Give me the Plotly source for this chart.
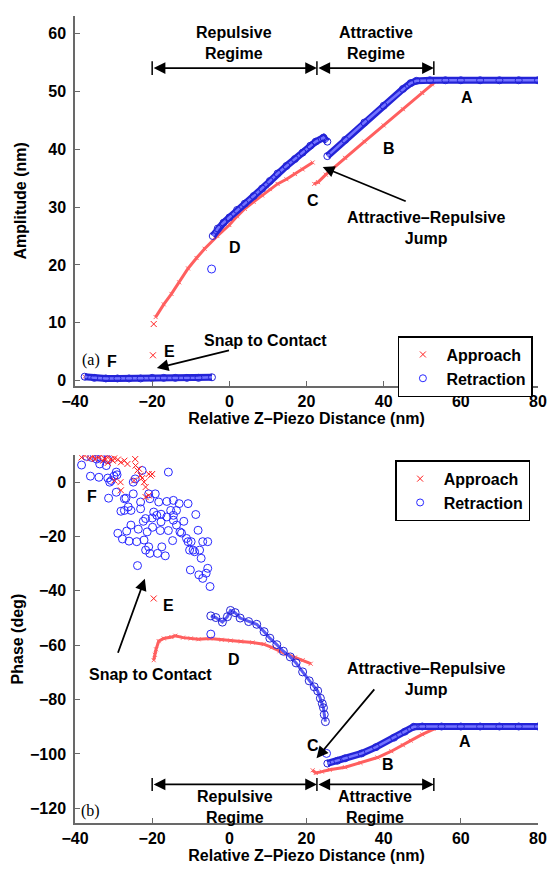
import plotly.graph_objects as go

# ---------------- data ----------------
# Top panel: amplitude (nm) vs relative Z-piezo distance (nm)
amp_app_f_x = [-37.5, -36, -34, -32, -30, -28, -26, -24, -22, -20.5]
amp_app_f_y = [0.7, 0.6, 0.5, 0.5, 0.4, 0.4, 0.4, 0.4, 0.4, 0.4]
amp_app_e_x = [-19.8, -19.6]
amp_app_e_y = [4.4, 9.8]
amp_app_d_x = [-19.1, -17, -15, -13, -10.7, -8.5, -6.4, -3.1, 0, 2, 4, 6.3, 8.5, 10.5, 12.5, 14.8, 17, 19, 21.6]
amp_app_d_y = [11.0, 13.2, 15.0, 17.0, 19.4, 21.2, 22.8, 25.0, 26.9, 28.4, 29.7, 30.9, 32.0, 33.1, 34.0, 34.8, 35.7, 36.5, 37.7]
amp_app_b_x = [22, 23, 25, 30, 35, 40, 45, 50, 52.5, 53.5, 56, 60, 65, 70, 75, 80]
amp_app_b_y = [34.0, 34.3, 35.6, 38.5, 41.3, 44.1, 46.9, 49.7, 51.2, 51.7, 51.8, 51.8, 51.8, 51.8, 51.8, 51.8]

amp_ret_f_x = [-37.5, -35, -32, -29, -26, -23, -20, -17, -14, -11, -8, -4.5]
amp_ret_f_y = [0.7, 0.5, 0.4, 0.4, 0.4, 0.4, 0.5, 0.5, 0.5, 0.5, 0.5, 0.6]
amp_ret_iso_x = [-4.6]
amp_ret_iso_y = [19.3]
amp_ret_d_x = [-4.3, -3, -1.5, 0, 2, 4, 6.3, 8.5, 10.5, 12.5, 14.8, 17, 19, 21, 22.4, 24.4, 25.4]
amp_ret_d_y = [25.0, 26.3, 27.3, 28.2, 29.5, 30.6, 31.9, 33.2, 34.5, 35.8, 37.1, 38.3, 39.4, 40.6, 41.3, 42.0, 41.3]
amp_ret_b_x = [25.4, 30, 35, 40, 45, 47, 48.5, 52, 56, 60, 65, 70, 75, 80]
amp_ret_b_y = [38.8, 41.6, 44.6, 47.5, 50.4, 51.4, 51.8, 51.9, 51.9, 51.9, 51.9, 51.9, 51.9, 51.9]

# Bottom panel: phase (deg) vs relative Z-piezo distance (nm)
ph_app_f_x = [-38.3, -37.4, -36.1, -35.3, -34.9, -34.0, -33.2, -32.7, -32.3, -31.5, -30.6, -30.2,
              -29.8, -28.9, -28.1, -27.2, -26.4, -24.4, -24.3, -23.4, -23.0, -22.6, -22.1, -21.7,
              -20.9, -20.4, -20.0, -21.7, -20.9, -28.1, -28.2, -29.8, -24.7, -31.5, -23.8]
ph_app_f_y = [9.1, 9.8, 8.8, 9.5, 8.5, 9.1, 9.8, 7.9, 8.8, 9.1, 8.5, 7.9,
              8.8, 8.3, 7.3, 7.9, 6.7, 8.5, 6.1, 4.9, 2.4, 1.5, 0.0, -1.8,
              3.0, 2.4, 3.0, -5.5, -4.9, -3.0, 0.0, 0.6, 0.6, 7.1, 4.3]
ph_app_e_x = [-19.6]
ph_app_e_y = [-42.8]
ph_app_d_x = [-19.6, -19.3, -19.0, -18.3, -17, -15, -14, -12, -10, -8, -5, -2, 0.3, 3, 6, 8.9, 11, 13, 14.8, 17, 19, 21.1]
ph_app_d_y = [-65.5, -63.5, -61.5, -58.5, -57.5, -57.0, -56.5, -57.2, -57.5, -57.8, -57.5, -58.0, -58.3,
              -58.6, -59.0, -59.6, -60.8, -62.2, -63.3, -64.5, -65.5, -66.8]
ph_app_b_x = [21.6, 22.4, 24, 26, 30, 34, 38.4, 42, 45, 47, 50, 52.9, 54, 56, 60, 65, 70, 75, 80]
ph_app_b_y = [-106.0, -107.0, -106.5, -105.8, -104.9, -103.3, -101.3, -99.0, -96.8, -95.1, -92.8, -90.7,
              -90.2, -90.0, -90.0, -90.0, -90.0, -90.0, -90.0]

ph_ret_f_x = [-38.3, -37.0, -35.7, -34.4, -33.6, -33.2, -31.9, -31.5, -36.0, -33.8, -31.5, -31.0, -30.6,
              -29.9, -29.3, -29.1, -31.3, -29.3, -27.2, -26.8, -24.9, -24.9, -24.4, -22.6, -28.1, -27.2,
              -26.2, -25.5, -23.0, -23.0, -20.9, -20.6, -19.2, -18.3, -19.6, -18.8, -17.7, -16.2, -14.5,
              -13.0, -10.7, -15.8, -22.3, -21.7, -20.0, -17.7, -16.2, -14.5, -13.7, -15.2, -14.5, -11.8,
              -8.7, -28.9, -27.7, -26.6, -26.0, -25.5, -24.0, -23.6, -22.1, -21.3, -19.9, -17.9, -15.8,
              -13.7, -12.4, -11.1, -10.7, -14.7, -21.7, -20.6, -20.9, -18.6, -17.5, -16.6, -9.9, -9.4,
              -9.0, -7.7, -7.3, -6.9, -5.6, -8.1, -23.8, -10.1, -7.9, -6.9, -5.6, -5.0, -10.3, -12.8, -6.0]
ph_ret_f_y = [6.3, 9.5, 9.1, 8.5, 6.7, 8.8, 6.1, 8.3, 2.2, 1.8, 1.5, 0.0, 0.6,
              2.2, 3.7, 2.7, -5.9, -3.7, -6.1, -5.9, -4.3, 0.0, 1.2, 4.3, -10.7, -10.4,
              -9.1, -10.4, -7.3, -9.8, -4.3, -6.1, -4.3, -7.3, -11.0, -12.2, -11.8, -7.1, -6.7,
              -7.9, -7.9, 3.7, -14.4, -13.4, -13.2, -14.6, -12.8, -12.2, -10.4, -10.4, -14.0, -14.4,
              -11.9, -18.8, -20.9, -18.0, -21.7, -15.8, -21.9, -17.3, -21.3, -18.3, -16.6, -17.8, -17.8,
              -15.8, -18.7, -20.7, -21.9, -21.5, -25.0, -26.2, -23.8, -26.2, -23.8, -27.1, -21.9, -25.0,
              -25.6, -25.0, -28.0, -21.9, -21.9, -17.7, -30.7, -32.3, -34.1, -35.4, -31.7, -38.4, -25.0, -18.3, -33.5]
ph_ret_iso_x = [-4.8, 25.2]
ph_ret_iso_y = [-55.9, -99.8]
ph_ret_d_x = [-4.8, -3.5, -1.8, -0.5, 0.3, 1.5, 2.8, 5, 7.1, 9, 10.5, 12.3, 14, 15.8, 17.3, 19, 20.7, 22,
              22.9, 23.6, 24.1, 24.4, 24.6, 24.9]
ph_ret_d_y = [-49.2, -49.8, -51.5, -49.5, -47.2, -48.0, -50.0, -51.3, -52.3, -55.0, -57.4, -59.8, -62.2,
              -64.3, -66.5, -69.8, -73.1, -75.3, -76.8, -79.5, -81.5, -83.0, -85.5, -88.1]
ph_ret_b_x = [25.4, 28, 30, 34.3, 38, 42.7, 45.5, 47.8, 50, 55, 60, 65, 70, 75, 80]
ph_ret_b_y = [-103.5, -102.5, -101.6, -99.8, -97.5, -94.0, -91.8, -90.0, -89.9, -89.9, -89.9, -89.9, -89.9,
              -89.9, -89.9]

x_ticks = [-40, -20, 0, 20, 40, 60, 80]
amp_ticks = [0, 10, 20, 30, 40, 50, 60]
ph_ticks = [-120, -100, -80, -60, -40, -20, 0]

# ---------------- styling ----------------
RED = "rgb(255,30,30)"
RED_BAND = "rgb(255,95,95)"
BLUE = "rgb(40,40,255)"
BLUE_DARK = "rgb(35,35,215)"
BLUE_LIGHT = "rgb(115,115,255)"
FONT = "Liberation Sans, Arial, sans-serif"
AXIS_GRAY = "rgb(105,105,105)"

fig = go.Figure()


def red_band(x, y, xa, ya):
    fig.add_trace(go.Scatter(x=x, y=y, mode="lines+markers", xaxis=xa, yaxis=ya, showlegend=False,
                             line=dict(color=RED_BAND, width=3),
                             marker=dict(symbol="x-thin", size=4, line=dict(width=1, color=RED_BAND))))


def red_pts(x, y, xa, ya):
    fig.add_trace(go.Scatter(x=x, y=y, mode="markers", xaxis=xa, yaxis=ya, showlegend=False,
                             marker=dict(symbol="x-thin", size=6, line=dict(width=1, color=RED))))


def blue_band(x, y, xa, ya):
    fig.add_trace(go.Scatter(x=x, y=y, mode="lines", xaxis=xa, yaxis=ya, showlegend=False,
                             line=dict(color=BLUE_DARK, width=7)))
    fig.add_trace(go.Scatter(x=x, y=y, mode="lines+markers", xaxis=xa, yaxis=ya, showlegend=False,
                             line=dict(color=BLUE_LIGHT, width=2.5),
                             marker=dict(symbol="circle-open", size=7, color=BLUE_DARK, line=dict(width=1))))


def blue_pts(x, y, xa, ya):
    fig.add_trace(go.Scatter(x=x, y=y, mode="markers", xaxis=xa, yaxis=ya, showlegend=False,
                             marker=dict(symbol="circle-open", size=8, color=BLUE, line=dict(width=1))))


# top panel
red_band(amp_app_f_x, amp_app_f_y, "x", "y")
red_pts(amp_app_e_x, amp_app_e_y, "x", "y")
red_band(amp_app_d_x, amp_app_d_y, "x", "y")
red_band(amp_app_b_x, amp_app_b_y, "x", "y")
blue_band(amp_ret_f_x, amp_ret_f_y, "x", "y")
blue_pts(amp_ret_iso_x, amp_ret_iso_y, "x", "y")
blue_band(amp_ret_d_x, amp_ret_d_y, "x", "y")
blue_band(amp_ret_b_x, amp_ret_b_y, "x", "y")

# bottom panel
blue_pts(ph_ret_f_x, ph_ret_f_y, "x2", "y2")
red_pts(ph_app_f_x, ph_app_f_y, "x2", "y2")
red_pts(ph_app_e_x, ph_app_e_y, "x2", "y2")
red_band(ph_app_d_x, ph_app_d_y, "x2", "y2")
red_band(ph_app_b_x, ph_app_b_y, "x2", "y2")
blue_pts(ph_ret_iso_x, ph_ret_iso_y, "x2", "y2")
fig.add_trace(go.Scatter(x=ph_ret_d_x, y=ph_ret_d_y, mode="lines+markers", xaxis="x2", yaxis="y2",
                         showlegend=False, line=dict(color="rgb(90,90,245)", width=3),
                         marker=dict(symbol="circle-open", size=8, color=BLUE_DARK, line=dict(width=1))))
blue_band(ph_ret_b_x, ph_ret_b_y, "x2", "y2")

# legend entries
for lg, xa, ya in (("legend", "x", "y"), ("legend2", "x2", "y2")):
    fig.add_trace(go.Scatter(x=[None], y=[None], mode="markers", name="Approach", legend=lg,
                             xaxis=xa, yaxis=ya,
                             marker=dict(symbol="x-thin", size=6, line=dict(width=1, color=RED))))
    fig.add_trace(go.Scatter(x=[None], y=[None], mode="markers", name="Retraction", legend=lg,
                             xaxis=xa, yaxis=ya,
                             marker=dict(symbol="circle-open", size=7, color=BLUE, line=dict(width=1))))

# ---------------- annotations ----------------
ann = []


def label(text, x, y, xr, yr, size=16, family=FONT, bold=True):
    ann.append(dict(text=text, x=x, y=y, xref=xr, yref=yr, showarrow=False,
                    font=dict(family=family, size=size, color="black", weight="bold" if bold else "normal"),
                    xanchor="center", yanchor="middle"))


def arrow(x, y, ax, ay, xr, yr, both=False):
    ann.append(dict(text="", x=x, y=y, ax=ax, ay=ay, xref=xr, yref=yr, axref=xr, ayref=yr,
                    showarrow=True, arrowhead=2, arrowsize=1.3, arrowwidth=1.8, arrowcolor="black",
                    arrowside="end+start" if both else "end", standoff=0, startstandoff=0))


# top
label("Repulsive<br>Regime", 1.3, 58.4, "x", "y")
label("Attractive<br>Regime", 37.9, 58.4, "x", "y")
arrow(22.7, 54.0, -20.0, 54.0, "x", "y", both=True)
arrow(53.0, 54.0, 22.7, 54.0, "x", "y", both=True)
label("A", 61.6, 48.9, "x", "y")
label("B", 41.5, 40.1, "x", "y")
label("C", 21.6, 31.2, "x", "y")
label("D", 1.5, 23.1, "x", "y")
label("E", -15.5, 5.1, "x", "y")
label("F", -30.5, 3.3, "x", "y")
label("(a)", -35.9, 3.6, "x", "y", family="Liberation Serif, Times New Roman, serif", bold=False)
label("Snap to Contact", 9.4, 7.0, "x", "y")
arrow(-18.8, 2.2, 0.3, 5.3, "x", "y")
label("Attractive–Repulsive<br>Jump", 51.0, 26.4, "x", "y")
arrow(24.2, 36.9, 46.1, 30.9, "x", "y")

# bottom
label("Repulsive<br>Regime", 1.4, -119.6, "x2", "y2")
label("Attractive<br>Regime", 37.8, -119.6, "x2", "y2")
arrow(22.7, -111.2, -20.0, -111.2, "x2", "y2", both=True)
arrow(53.0, -111.2, 22.7, -111.2, "x2", "y2", both=True)
label("A", 61.1, -95.4, "x2", "y2")
label("B", 41.2, -103.8, "x2", "y2")
label("C", 21.6, -96.9, "x2", "y2")
label("D", 1.3, -65.1, "x2", "y2")
label("E", -15.8, -45.3, "x2", "y2")
label("F", -35.6, -5.1, "x2", "y2")
label("(b)", -36.1, -121.0, "x2", "y2", family="Liberation Serif, Times New Roman, serif", bold=False)
label("Snap to Contact", -20.4, -70.6, "x2", "y2")
arrow(-21.9, -35.5, -29.0, -63.3, "x2", "y2")
label("Attractive–Repulsive<br>Jump", 50.9, -72.6, "x2", "y2")
arrow(22.6, -101.6, 37.9, -75.7, "x2", "y2")

# end bars of the regime arrows
shapes = []
for xb in (-20.0, 22.7, 53.0):
    shapes.append(dict(type="line", xref="x", yref="y", x0=xb, x1=xb, y0=52.8, y1=55.2,
                       line=dict(color="black", width=1.5)))
    shapes.append(dict(type="line", xref="x2", yref="y2", x0=xb, x1=xb, y0=-108.8, y1=-113.6,
                       line=dict(color="black", width=1.5)))

axis_common = dict(showline=True, linecolor=AXIS_GRAY, linewidth=1.5, ticks="inside", ticklen=5,
                   tickcolor=AXIS_GRAY, tickwidth=1, showgrid=False, zeroline=False, mirror=False,
                   tickfont=dict(family=FONT, size=16, color="black", weight="bold"))
title_font = dict(family=FONT, size=16, color="black", weight="bold")

fig.update_layout(
    width=557, height=872, paper_bgcolor="white", plot_bgcolor="white",
    margin=dict(l=75, r=10, t=16, b=44),
    xaxis=dict(domain=[0, 1], anchor="y", range=[-40, 80], tickvals=x_ticks,
               title=dict(text="Relative Z–Piezo Distance (nm)", font=title_font, standoff=4), **axis_common),
    yaxis=dict(domain=[0.5419, 1], anchor="x", range=[-0.85, 63], tickvals=amp_ticks, ticklabelstandoff=4,
               title=dict(text="Amplitude (nm)", font=title_font, standoff=18), **axis_common),
    xaxis2=dict(domain=[0, 1], anchor="y2", range=[-40, 80], tickvals=x_ticks,
                title=dict(text="Relative Z–Piezo Distance (nm)", font=title_font, standoff=4), **axis_common),
    yaxis2=dict(domain=[0, 0.4557], anchor="x2", range=[-125.4, 9.9], tickvals=ph_ticks, ticklabelstandoff=4,
                title=dict(text="Phase (deg)", font=title_font, standoff=2), **axis_common),
    legend=dict(x=0.989, y=0.6034, xanchor="right", yanchor="top", bgcolor="white",
                bordercolor="black", borderwidth=1.5, itemwidth=37, tracegroupgap=0,
                font=dict(family=FONT, size=16, color="black", weight="bold")),
    legend2=dict(x=0.983, y=0.4495, xanchor="right", yanchor="top", bgcolor="white",
                 bordercolor="black", borderwidth=1.5, itemwidth=37, tracegroupgap=0,
                 font=dict(family=FONT, size=16, color="black", weight="bold")),
    annotations=ann, shapes=shapes, showlegend=True,
)

fig.write_html("out.html")
